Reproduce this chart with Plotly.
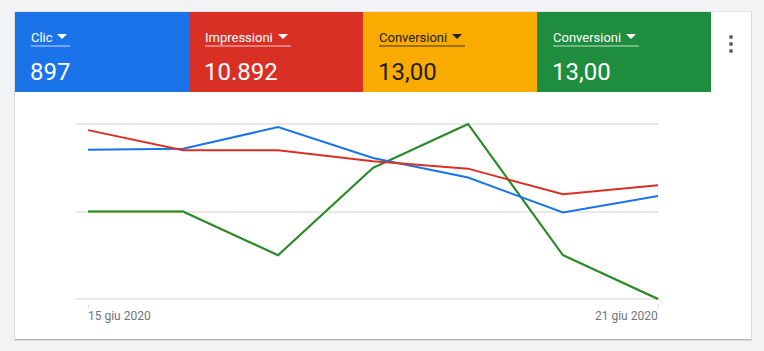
import plotly.graph_objects as go

W, H = 764, 351

# ---- data ----
dates = ["2020-06-15", "2020-06-16", "2020-06-17", "2020-06-18", "2020-06-19", "2020-06-20", "2020-06-21"]
clic = [145, 146, 167, 137, 118, 84, 100]
impressioni = [1930, 1700, 1700, 1575, 1490, 1197, 1300]
conversioni_a = [2, 2, 1, 3, 4, 1, 0]
conversioni_b = [2, 2, 1, 3, 4, 1, 0]
tick_labels = ["15 giu 2020", "21 giu 2020"]
metric_names = ["Clic", "Impressioni", "Conversioni", "Conversioni"]
metric_totals = ["897", "10.892", "13,00", "13,00"]

# ---- style ----
BLUE, RED, YELLOW, GREEN = "#1a73e8", "#d93025", "#f9ab00", "#1e8e3e"
FONT = "Roboto"


def px(x):
    return x / W


def py(y):
    return 1 - y / H


shapes = []
annotations = []

# card shadow + card
shapes.append(dict(type="rect", xref="paper", yref="paper", x0=px(14), x1=px(752), y0=py(11.5), y1=py(341),
                   fillcolor="rgba(0,0,0,0.10)", line_width=0, layer="below"))
shapes.append(dict(type="rect", xref="paper", yref="paper", x0=px(15), x1=px(751), y0=py(12), y1=py(340),
                   fillcolor="rgba(0,0,0,0.18)", line_width=0, layer="below"))
shapes.append(dict(type="rect", xref="paper", yref="paper", x0=px(15), x1=px(751), y0=py(12), y1=py(339),
                   fillcolor="white", line_width=0, layer="below"))

# metric tiles
tile_colors = [BLUE, RED, YELLOW, GREEN]
text_colors = ["white", "white", "#202124", "white"]
line_colors = ["rgba(255,255,255,0.75)", "rgba(255,255,255,0.75)", "rgba(32,33,36,0.85)", "rgba(255,255,255,0.75)"]
tile_x = [15, 189, 363, 537]
tile_w = 174
label_w = [21, 68, 68, 68]
for i in range(4):
    x0 = tile_x[i]
    shapes.append(dict(type="rect", xref="paper", yref="paper", x0=px(x0), x1=px(x0 + tile_w),
                       y0=py(12), y1=py(92), fillcolor=tile_colors[i], line_width=0, layer="below"))
    tx = x0 + 16
    annotations.append(dict(xref="paper", yref="paper", x=px(tx), y=py(37.5), xanchor="left", yanchor="middle",
                            text=metric_names[i], showarrow=False, xshift=-2,
                            font=dict(family=FONT, size=13, color=text_colors[i])))
    # dropdown triangle
    ax = tx + label_w[i] + 5
    shapes.append(dict(type="path", xref="paper", yref="paper",
                       path=f"M {px(ax)},{py(34)} L {px(ax + 10)},{py(34)} L {px(ax + 5)},{py(39)} Z",
                       fillcolor=text_colors[i], line_width=0, layer="below"))
    # underline
    shapes.append(dict(type="line", xref="paper", yref="paper", x0=px(tx), x1=px(ax + 13), y0=py(46), y1=py(46),
                       line=dict(color=line_colors[i], width=1), layer="below"))
    annotations.append(dict(xref="paper", yref="paper", x=px(tx), y=py(72), xanchor="left", yanchor="middle",
                            text=metric_totals[i], showarrow=False, xshift=-3,
                            font=dict(family=FONT, size=24, color=text_colors[i])))

# three-dot menu
for dy in (37, 44, 51):
    shapes.append(dict(type="circle", xref="paper", yref="paper", x0=px(729), x1=px(733), y0=py(dy - 2), y1=py(dy + 2),
                       fillcolor="#5f6368", line_width=0, layer="below"))

# ---- traces ----
fig = go.Figure()
fig.add_trace(go.Scatter(x=dates, y=clic, mode="lines", yaxis="y2", line=dict(color=BLUE, width=2), name="Clic"))
fig.add_trace(go.Scatter(x=dates, y=impressioni, mode="lines", yaxis="y3", line=dict(color=RED, width=2), name="Impressioni"))
fig.add_trace(go.Scatter(x=dates, y=conversioni_a, mode="lines", yaxis="y", line=dict(color=YELLOW, width=2), name="Conversioni"))
fig.add_trace(go.Scatter(x=dates, y=conversioni_b, mode="lines", yaxis="y", line=dict(color=GREEN, width=2), name="Conversioni"))

# tick labels
annotations.append(dict(xref="x", yref="paper", x=dates[0], y=py(316), xanchor="left", yanchor="middle",
                        text=tick_labels[0], showarrow=False, font=dict(family=FONT, size=12, color="#70757a"),
                        xshift=-2))
annotations.append(dict(xref="x", yref="paper", x=dates[-1], y=py(316), xanchor="right", yanchor="middle",
                        text=tick_labels[1], showarrow=False, font=dict(family=FONT, size=12, color="#70757a"),
                        xshift=2))

# axis geometry: plot area x 75..659, gridlines at y 124 (top) .. 299 (bottom)
pad = 4
top, bot = 124, 299
span = bot - top
ydom = [py(bot + pad), py(top - pad)]


def rng(maxv):
    u = maxv / span
    return [-pad * u, maxv + pad * u]


fig.update_layout(
    width=W, height=H,
    margin=dict(l=0, r=0, t=0, b=0),
    paper_bgcolor="#f1f3f4",
    plot_bgcolor="rgba(0,0,0,0)",
    showlegend=False,
    shapes=shapes,
    annotations=annotations,
    xaxis=dict(domain=[px(75), px(659)], type="category", range=[-0.137, 6.01],
               showgrid=False, zeroline=False, showline=False,
               tickmode="array", tickvals=[dates[0], dates[-1]], ticktext=["", ""],
               ticks="outside", ticklen=5, tickcolor="#e0e0e0", tickwidth=1),
    yaxis=dict(domain=ydom, range=rng(4), tickmode="array", tickvals=[0, 2, 4],
               showticklabels=False, showgrid=True, gridcolor="#e8e8e8", gridwidth=2,
               zeroline=False, showline=False),
    yaxis2=dict(domain=ydom, range=rng(170), overlaying="y", visible=False, showgrid=False),
    yaxis3=dict(domain=ydom, range=rng(2000), overlaying="y", visible=False, showgrid=False),
    font=dict(family=FONT),
)

fig.write_html("out.html")
